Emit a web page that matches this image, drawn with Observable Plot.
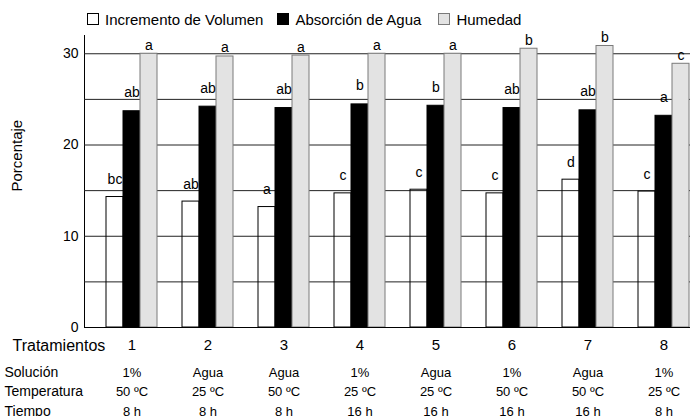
<!DOCTYPE html>
<html>
<head>
<meta charset="utf-8">
<script src="https://cdn.jsdelivr.net/npm/d3@7"></script>
<script src="https://cdn.jsdelivr.net/npm/@observablehq/plot@0.6"></script>
<style>
  body { margin: 0; background: #fff; font-family: "Liberation Sans", Arial, Helvetica, sans-serif; }
  #legend { height: 30px; display: flex; align-items: center; padding-left: 87px; padding-top: 8px; box-sizing: border-box; font-size: 15px; color: #000; }
  #legend .sw { width: 10px; height: 10px; border: 1px solid #000; margin-right: 6px; }
  #legend .lb { margin-right: 14px; }
  #chart svg { display: block; }
</style>
</head>
<body>
<div id="legend"></div>
<div id="chart"></div>
<script>
// ---- data ----
const treatments = ["1", "2", "3", "4", "5", "6", "7", "8"];
const seriesNames = ["Incremento de Volumen", "Absorción de Agua", "Humedad"];
const volumen   = [14.3, 13.8, 13.2, 14.7, 15.1, 14.7, 16.2, 14.9];
const absorcion = [23.7, 24.2, 24.05, 24.45, 24.3, 24.05, 23.8, 23.2];
const humedad   = [30.0, 29.7, 29.8, 30.0, 30.0, 30.55, 30.85, 28.9];
const letrasVolumen   = ["bc", "ab", "a", "c", "c", "c", "d", "c"];
const letrasAbsorcion = ["ab", "ab", "ab", "b", "b", "ab", "ab", "a"];
const letrasHumedad   = ["a", "a", "a", "a", "a", "b", "b", "c"];
const solucion    = ["1%", "Agua", "Agua", "1%", "Agua", "1%", "Agua", "1%"];
const temperatura = ["50 ºC", "25 ºC", "50 ºC", "25 ºC", "25 ºC", "50 ºC", "50 ºC", "25 ºC"];
const tiempo      = ["8 h", "8 h", "8 h", "16 h", "16 h", "16 h", "16 h", "8 h"];
const yTicks = [0, 10, 20, 30];
const gridValues = [5, 10, 15, 20, 25, 30];
const yLabel = "Porcentaje";
const xLabel = "Tratamientos";
const rowLabels = ["Solución", "Temperatura", "Tiempo"];

// ---- build tables ----
const seriesValues = [volumen, absorcion, humedad];
const seriesLetters = [letrasVolumen, letrasAbsorcion, letrasHumedad];
const rows = [];
treatments.forEach((t, i) => {
  seriesNames.forEach((s, j) => {
    rows.push({t, serie: s, value: seriesValues[j][i], letra: seriesLetters[j][i]});
  });
});
const bySerie = s => rows.filter(d => d.serie === s);
const info = treatments.map((t, i) => ({
  t, serie: seriesNames[1], sol: solucion[i], temp: temperatura[i], tiempo: tiempo[i]
}));
const first = [{t: treatments[0]}];

// ---- legend ----
const swatches = [
  {bg: "#fff", border: "#000"},
  {bg: "#000", border: "#000"},
  {bg: "#e3e3e3", border: "#7a7a7a"}
];
const legend = document.getElementById("legend");
seriesNames.forEach((s, j) => {
  const sw = document.createElement("span");
  sw.className = "sw";
  sw.style.background = swatches[j].bg;
  sw.style.borderColor = swatches[j].border;
  const lb = document.createElement("span");
  lb.className = "lb";
  if (j === 1) lb.style.marginRight = "17px";
  lb.textContent = s;
  legend.appendChild(sw);
  legend.appendChild(lb);
});

// ---- chart ----
const font = '"Liberation Sans", Arial, Helvetica, sans-serif';
const chart = Plot.plot({
  width: 690,
  height: 386,
  marginLeft: 84,
  marginRight: 0,
  marginTop: 5,
  marginBottom: 89,
  style: {fontFamily: font, fontSize: "14px", color: "#000", background: "transparent"},
  fx: {domain: treatments, range: [84, 692], padding: 0, axis: null, label: null},
  x: {domain: seriesNames, paddingInner: 0, paddingOuter: 0.735, align: 0.88, axis: null, label: null},
  y: {domain: [0, 32], ticks: yTicks, tickSize: 0, tickPadding: 6, line: true, label: null},
  marks: [
    Plot.ruleY(gridValues, {stroke: "#222", strokeWidth: 1}),
    Plot.barY(bySerie(seriesNames[0]), {fx: "t", x: "serie", y: "value", fill: "none", stroke: "#000", strokeWidth: 1}),
    Plot.barY(bySerie(seriesNames[1]), {fx: "t", x: "serie", y: "value", fill: "#000", stroke: "#000", strokeWidth: 1}),
    Plot.barY(bySerie(seriesNames[2]), {fx: "t", x: "serie", y: "value", fill: "#e3e3e3", stroke: "#7a7a7a", strokeWidth: 1}),
    Plot.ruleY([0], {stroke: "#000", strokeWidth: 1}),
    Plot.text(bySerie(seriesNames[0]), {fx: "t", x: "serie", y: "value", text: "letra", dy: -13, lineAnchor: "bottom", fontSize: 14}),
    Plot.text(bySerie(seriesNames[1]), {fx: "t", x: "serie", y: "value", text: "letra", dy: -14, lineAnchor: "bottom", fontSize: 14}),
    Plot.text(bySerie(seriesNames[2]), {fx: "t", x: "serie", y: "value", text: "letra", dy: -4, lineAnchor: "bottom", fontSize: 14}),
    // treatment numbers and conditions
    Plot.text(info, {fx: "t", x: "serie", frameAnchor: "bottom", text: "t", dy: 18, lineAnchor: "middle", fontSize: 15}),
    Plot.text(info, {fx: "t", x: "serie", frameAnchor: "bottom", text: "sol", dy: 45, lineAnchor: "middle", fontSize: 13}),
    Plot.text(info, {fx: "t", x: "serie", frameAnchor: "bottom", text: "temp", dy: 64, lineAnchor: "middle", fontSize: 13}),
    Plot.text(info, {fx: "t", x: "serie", frameAnchor: "bottom", text: "tiempo", dy: 84, lineAnchor: "middle", fontSize: 13}),
    // row headers in the left margin
    Plot.text(first, {fx: "t", frameAnchor: "bottom-left", text: () => xLabel, dx: -72, dy: 18, textAnchor: "start", lineAnchor: "middle", fontSize: 16}),
    Plot.text(first, {fx: "t", frameAnchor: "bottom-left", text: () => rowLabels[0], dx: -80, dy: 45, textAnchor: "start", lineAnchor: "middle", fontSize: 14}),
    Plot.text(first, {fx: "t", frameAnchor: "bottom-left", text: () => rowLabels[1], dx: -80, dy: 64, textAnchor: "start", lineAnchor: "middle", fontSize: 14}),
    Plot.text(first, {fx: "t", frameAnchor: "bottom-left", text: () => rowLabels[2], dx: -80, dy: 84, textAnchor: "start", lineAnchor: "middle", fontSize: 14}),
    // y label
    Plot.text(first, {fx: "t", frameAnchor: "left", text: () => yLabel, dx: -67, dy: 10, rotate: -90, lineAnchor: "middle", fontSize: 15})
  ]
});
document.getElementById("chart").appendChild(chart);
</script>
</body>
</html>
